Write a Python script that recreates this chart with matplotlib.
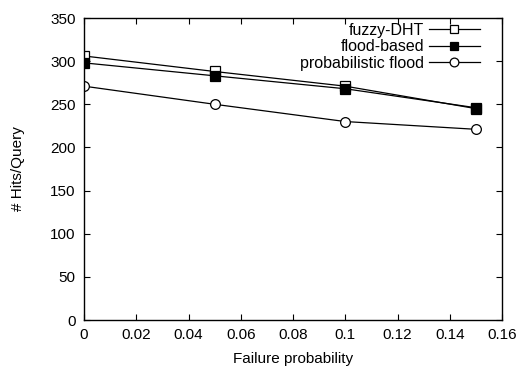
import matplotlib
matplotlib.use("Agg")
import matplotlib.pyplot as plt

plt.rcParams['font.family'] = ['Liberation Sans', 'DejaVu Sans']

x = [0, 0.05, 0.1, 0.15]
fuzzy = [306, 288, 271, 245]
flood = [298, 283, 268, 246]
prob = [271, 250, 230, 221]
xticks = [0, 0.02, 0.04, 0.06, 0.08, 0.1, 0.12, 0.14, 0.16]
xticklabels = ['0', '0.02', '0.04', '0.06', '0.08', '0.1', '0.12', '0.14', '0.16']
yticks = [0, 50, 100, 150, 200, 250, 300, 350]

fig = plt.figure(figsize=(5.21, 3.68), dpi=100)
ax = fig.add_axes([84/521, 1-320/368, (502-84)/521, (320-18)/368])

ax.plot(x, fuzzy, color='black', lw=0.9, marker='s', mfc='white', mec='black', ms=6.5, mew=0.9, label='fuzzy-DHT')
ax.plot(x, flood, color='black', lw=0.9, marker='s', mfc='black', mec='black', ms=6.5, mew=0.9, label='flood-based')
ax.plot(x, prob, color='black', lw=0.9, marker='o', mfc='white', mec='black', ms=7, mew=0.9, label='probabilistic flood')

ax.set_xlim(0, 0.16)
ax.set_ylim(0, 350)
ax.set_xticks(xticks)
ax.set_xticklabels(xticklabels)
ax.set_yticks(yticks)
ax.tick_params(direction='in', top=True, right=True, labelsize=11, length=4, width=0.8, pad=6)
for s in ax.spines.values():
    s.set_linewidth(1.0)
ax.set_xlabel('Failure probability', fontsize=11, labelpad=7)
ax.set_ylabel('# Hits/Query', fontsize=11, labelpad=18)

leg = ax.legend(loc='upper right', frameon=False, markerfirst=False, fontsize=11.5,
                handlelength=3.2, handletextpad=0.3, labelspacing=0.1,
                borderaxespad=0.0, borderpad=0.2, bbox_to_anchor=(0.955, 0.995), markerscale=0.9)

fig.savefig('out.png', dpi=100)
